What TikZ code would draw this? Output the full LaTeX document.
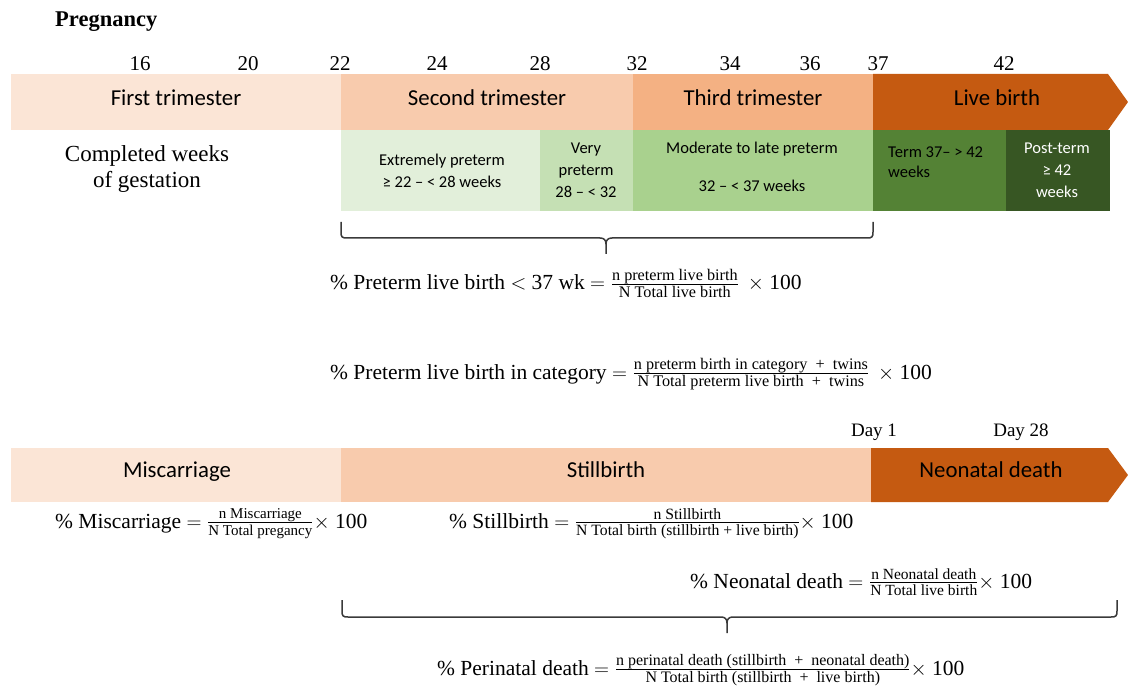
\documentclass[tikz,border=0pt]{standalone}
\usepackage{fontspec}
\usepackage{amsmath}
\setmainfont{Liberation Serif}
\newfontfamily\calfont{Carlito}
\newcommand\myfrac[3]{\frac{\text{\fontsize{#1}{#1}\selectfont #2}}{\text{\fontsize{#1}{#1}\selectfont #3}}}
\definecolor{cA}{HTML}{FBE5D6}
\definecolor{cB}{HTML}{F8CBAD}
\definecolor{cC}{HTML}{F4B183}
\definecolor{cD}{HTML}{C55A11}
\definecolor{gA}{HTML}{E2EFDA}
\definecolor{gB}{HTML}{C5E0B4}
\definecolor{gC}{HTML}{A9D18E}
\definecolor{gD}{HTML}{548235}
\definecolor{gE}{HTML}{375623}
\definecolor{brc}{HTML}{3A3A3A}
\begin{document}
\begin{tikzpicture}[x=1pt,y=-1pt,
  box/.style={draw=none,inner sep=0,outer sep=0,anchor=north west},
  barlbl/.style={inner sep=0,anchor=base,font=\calfont\fontsize{22.8}{26}\selectfont},
  glbl/.style={inner sep=0,anchor=base,font=\calfont\fontsize{16.5}{19}\selectfont},
  wk/.style={inner sep=0,anchor=base,font=\fontsize{21}{25}\selectfont},
  fml/.style={inner sep=0,anchor=base west,font=\fontsize{21.5}{26}\selectfont},
  bracepath/.style={draw=brc,line width=1.5pt}]
\useasboundingbox (0,0) rectangle (1128,687);
% ---------- title and week numbers
\node[inner sep=0,anchor=base west,font=\bfseries\fontsize{22.5}{26}\selectfont] (preg) at (55,27) {Pregnancy};
\foreach \n/\xx in {16/140,20/248,22/340,24/437,28/540,32/637,34/730,36/810,37/878,42/1004}
  \node[wk] (w\n) at (\xx,71) {\n};
% ---------- top bar
\node[box,fill=cA,minimum width=330,minimum height=56] (ft) at (11,74) {};
\node[box,fill=cB,minimum width=292,minimum height=56] (st) at (341,74) {};
\node[box,fill=cC,minimum width=240,minimum height=56] (tt) at (633,74) {};
\fill[cD] (873,74) -- (1108,74) -- (1128,102) -- (1108,130) -- (873,130) -- cycle;
\coordinate (lb) at (990,102);
\node[barlbl] (lft) at (176,106) {First trimester};
\node[barlbl] (lst) at (487,106) {Second trimester};
\node[barlbl] (ltt) at (753,106) {Third trimester};
\node[barlbl] (llb) at (997,106) {Live birth};
% ---------- green categories
\node[box,fill=gA,minimum width=199,minimum height=81] (ep) at (341,130) {};
\node[box,fill=gB,minimum width=93,minimum height=81] (vp) at (540,130) {};
\node[box,fill=gC,minimum width=240,minimum height=81] (ml) at (633,130) {};
\node[box,fill=gD,minimum width=133,minimum height=81] (te) at (873,130) {};
\node[box,fill=gE,minimum width=104,minimum height=81] (pt) at (1006,130) {};
\node[glbl] (ep1) at (442,166) {Extremely preterm};
\node[glbl] (ep2) at (442,188) {≥ 22 – < 28 weeks};
\node[glbl] (vp1) at (586,154) {Very};
\node[glbl] (vp2) at (586,176) {preterm};
\node[glbl] (vp3) at (586,198) {28 – < 32};
\node[glbl] (ml1) at (752,154) {Moderate to late preterm};
\node[glbl] (ml2) at (752,192) {32 – < 37 weeks};
\node[glbl,anchor=base west] (te1) at (888,158) {Term 37– > 42};
\node[glbl,anchor=base west] (te2) at (888,178) {weeks};
\node[glbl,text=white] (pt1) at (1057,154) {Post-term};
\node[glbl,text=white] (pt2) at (1057,176) {≥ 42};
\node[glbl,text=white] (pt3) at (1057,198) {weeks};
\node[inner sep=0,align=center,font=\fontsize{23}{26}\selectfont] (cw) at (147,169) {Completed weeks\\of gestation};
% ---------- brace 1
\coordinate (b1l) at (341,222);
\coordinate (b1r) at (873,222);
\coordinate (b1m) at (606,254);
\draw[bracepath] (b1l) -- (341,232) .. controls (341,237) and (342,238) .. (347,238) -- (600,238) .. controls (604,238) and (606,240) .. (606,244) -- (b1m);
\draw[bracepath] (b1r) -- (873,232) .. controls (873,237) and (872,238) .. (867,238) -- (612,238) .. controls (608,238) and (606,240) .. (606,244);
% ---------- preterm formulas
\node[fml] (f1) at (330,290) {\% Preterm live birth $<$ 37 wk $=\myfrac{16.2}{n preterm live birth}{N Total live birth}$ \,$\times$ 100};
\node[fml] (f2) at (330,379) {\% Preterm live birth in category $=\myfrac{16.2}{n preterm birth in category \ + \ twins}{N Total preterm live birth \ + \ twins}$ \,$\times$ 100};
% ---------- bottom bar
\node[wk,font=\fontsize{19}{23}\selectfont] (d1) at (874,436) {Day 1};
\node[wk,font=\fontsize{19}{23}\selectfont] (d28) at (1021,436) {Day 28};
\node[box,fill=cA,minimum width=330,minimum height=54] (mc) at (11,448) {};
\node[box,fill=cB,minimum width=530,minimum height=54] (sb) at (341,448) {};
\fill[cD] (871,448) -- (1108,448) -- (1128,475) -- (1108,502) -- (871,502) -- cycle;
\coordinate (nd) at (990,475);
\node[barlbl] (lmc) at (177,477) {Miscarriage};
\node[barlbl] (lsb) at (606,477) {Stillbirth};
\node[barlbl] (lnd) at (991,477) {Neonatal death};
% ---------- mortality formulas
\node[fml] (f3) at (55,528) {\% Miscarriage $=\myfrac{15}{n Miscarriage}{N Total pregancy}\times$ 100};
\node[fml] (f4) at (449,528) {\% Stillbirth $=\myfrac{15.7}{n Stillbirth}{N Total birth (stillbirth + live birth)}\times$ 100};
\node[fml] (f5) at (690,588) {\% Neonatal death $=\myfrac{15.5}{n Neonatal death}{N Total live birth}\times$ 100};
% ---------- brace 2
\coordinate (b2l) at (342,600);
\coordinate (b2r) at (1117,600);
\coordinate (b2m) at (727,633);
\draw[bracepath] (b2l) -- (342,611) .. controls (342,616) and (343,617) .. (348,617) -- (721,617) .. controls (725,617) and (727,619) .. (727,623) -- (b2m);
\draw[bracepath] (b2r) -- (1117,611) .. controls (1117,616) and (1116,617) .. (1111,617) -- (733,617) .. controls (729,617) and (727,619) .. (727,623);
\node[fml] (f6) at (437,675) {\% Perinatal death $=\myfrac{16}{n perinatal death (stillbirth \ + \ neonatal death)}{N Total birth (stillbirth \ + \ live birth)}\times$ 100};
\end{tikzpicture}
\end{document}
